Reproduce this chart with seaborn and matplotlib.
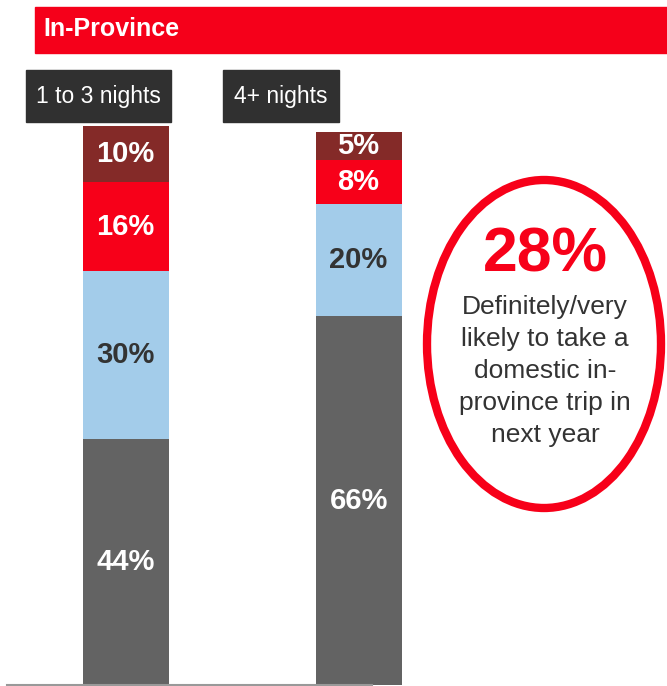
import numpy as np
import pandas as pd
import matplotlib
matplotlib.use("Agg")
import matplotlib.pyplot as plt
import seaborn as sns
from matplotlib.patches import Rectangle, Ellipse

# data
groups = ["1 to 3 nights", "4+ nights"]
segments = ["Gray", "Blue", "Red", "DarkRed"]  # bottom -> top
vals_short = [44, 30, 16, 10]
vals_long = [66, 20, 8, 5]
seg_colors = ["#636363", "#A3CCEA", "#F70019", "#842A28"]
label_colors = ["white", "#333333", "white", "white"]
headline = "28%"
blurb = "Definitely/very\nlikely to take a\ndomestic in-\nprovince trip in\nnext year"

sns.set_theme(style="white")
plt.rcParams["font.family"] = ["Liberation Sans", "DejaVu Sans"]

W, H = 667, 686
fig = plt.figure(figsize=(W / 100, H / 100), dpi=100)

def fx(px):
    return px / W

def fy(py):
    return 1 - py / H

# bar axes: baseline at y=685, 100% at y=126
ax = fig.add_axes([fx(7), fy(685), fx(420) - fx(7), (685 - 126) / H])

df = pd.DataFrame({"group": groups})
vals = np.array([vals_short, vals_long])
cum = vals.cumsum(axis=1)
# draw cumulative totals from top down so each bar overlays the previous
for i in range(len(segments) - 1, -1, -1):
    df["h"] = cum[:, i]
    sns.barplot(data=df, x="group", y="h", color=seg_colors[i], saturation=1,
                width=86 / 233, ax=ax, linewidth=0)

for g in range(len(groups)):
    for i in range(len(segments)):
        mid = cum[g, i] - vals[g, i] / 2
        ax.text(g, mid, f"{vals[g, i]}%", ha="center", va="center",
                fontsize=21, fontweight="bold", color=label_colors[i])

ax.set_xlim(-0.509, -0.509 + 413 / 233)
ax.set_ylim(0, 100)
ax.set_xlabel("")
ax.set_ylabel("")
ax.set_xticks([])
ax.set_yticks([])
for s in ["top", "right", "left"]:
    ax.spines[s].set_visible(False)
ax.spines["bottom"].set_color("#999999")
ax.spines["bottom"].set_linewidth(1.5)
ax.spines["bottom"].set_bounds(-0.509, 1.057)

# header strip
fig.patches.append(Rectangle((fx(35), fy(53)), fx(667) - fx(35), (53 - 7) / H,
                             transform=fig.transFigure, color="#F5001A", zorder=0))
fig.text(fx(43), fy(29), "In-Province", color="white", fontsize=18,
         fontweight="bold", ha="left", va="center")

# group label boxes
for (x0, x1), name in zip([(26, 171), (223, 339)], groups):
    fig.patches.append(Rectangle((fx(x0), fy(122)), fx(x1) - fx(x0), (122 - 70) / H,
                                 transform=fig.transFigure, color="#303030", zorder=0))
    fig.text(fx((x0 + x1) / 2), fy(97), name, color="white", fontsize=16.5,
             ha="center", va="center")

# callout ellipse
fig.patches.append(Ellipse((fx(544), fy(344)), (234) / W, (328) / H,
                           transform=fig.transFigure, fill=False,
                           edgecolor="#F70019", linewidth=6))
fig.text(fx(545), fy(255), headline, color="#F70019", fontsize=45,
         fontweight="bold", ha="center", va="center")
fig.text(fx(545), fy(371), blurb, color="#333333", fontsize=19,
         ha="center", va="center", linespacing=1.42)

fig.savefig("out.png", dpi=100)
